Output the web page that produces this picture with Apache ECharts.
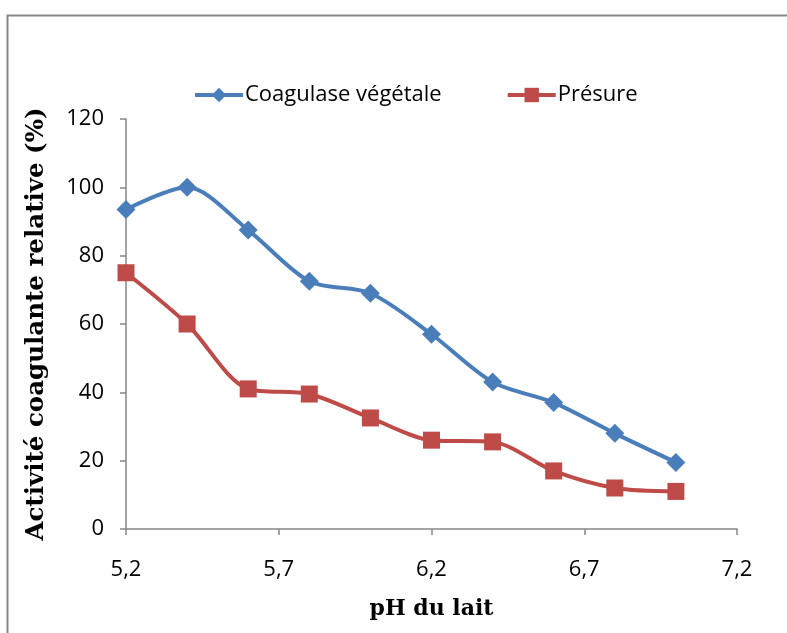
<!DOCTYPE html>
<html>
<head>
<meta charset="utf-8">
<script src="https://cdn.jsdelivr.net/npm/echarts@6/dist/echarts.min.js"></script>
<style>
  html, body { margin: 0; padding: 0; background: #fff; }
  #chart { width: 787px; height: 633px; }
</style>
</head>
<body>
<div id="chart"></div>
<script>
// pH values of the milk samples
const phValues = [5.2, 5.4, 5.6, 5.8, 6.0, 6.2, 6.4, 6.6, 6.8, 7.0];
// Relative clotting activity (%)
const coagulaseVegetale = [93.5, 100, 87.5, 72.5, 69, 57, 43, 37, 28, 19.5];
const presure = [75, 60, 41, 39.5, 32.5, 26, 25.5, 17, 12, 11];
// Axis tick positions
const xTicks = [5.2, 5.7, 6.2, 6.7, 7.2];

const labelFont = '"Open Sans", "Noto Sans", sans-serif';
const titleFont = '"DejaVu Serif", serif';
const axisGray = '#868686';

const chart = echarts.init(document.getElementById('chart'), null, { renderer: 'canvas' });

const pairs = (ys) => phValues.map((x, i) => [x, ys[i]]);

chart.setOption({
  animation: false,
  backgroundColor: '#ffffff',
  graphic: [{
    type: 'rect',
    left: 5, top: 13,
    shape: { width: 820, height: 700 },
    style: { fill: 'none', stroke: '#878787', lineWidth: 2 },
    silent: true
  }],
  legend: {
    top: 79,
    left: 188,
    itemGap: 64,
    itemWidth: 48,
    itemHeight: 18,
    lineStyle: { width: 4 },
    textStyle: { fontFamily: labelFont, fontSize: 22, color: '#000', padding: [0, 0, 0, -3] },
    data: ['Coagulase végétale', 'Présure']
  },
  grid: { left: 126, right: 50, top: 119, bottom: 104, containLabel: false },
  xAxis: {
    type: 'value',
    min: 5.2,
    max: 7.2,
    name: 'pH du lait',
    nameLocation: 'middle',
    nameGap: 69,
    nameTextStyle: { fontFamily: titleFont, fontWeight: 'bold', fontSize: 22, color: '#000' },
    axisLine: { show: true, lineStyle: { color: axisGray, width: 1.5 } },
    axisTick: { show: true, length: 6, lineStyle: { color: axisGray, width: 1.5 }, customValues: xTicks },
    axisLabel: {
      customValues: xTicks,
      margin: 30,
      fontFamily: labelFont, fontSize: 22, color: '#000',
      formatter: (v) => v.toFixed(1).replace('.', ',')
    },
    splitLine: { show: false }
  },
  yAxis: {
    type: 'value',
    min: 0,
    max: 120,
    interval: 20,
    name: 'Activité coagulante relative (%)',
    nameLocation: 'middle',
    nameGap: 77,
    nameRotate: 90,
    nameTextStyle: { fontFamily: titleFont, fontWeight: 'bold', fontSize: 24.5, color: '#000' },
    axisLine: { show: true, lineStyle: { color: axisGray, width: 1.5 } },
    axisTick: { show: true, length: 6, lineStyle: { color: axisGray, width: 1.5 } },
    axisLabel: { margin: 22, fontFamily: labelFont, fontSize: 22, color: '#000' },
    splitLine: { show: false }
  },
  series: [
    {
      name: 'Coagulase végétale',
      type: 'line',
      data: pairs(coagulaseVegetale),
      smooth: 0.3,
      symbol: 'diamond',
      symbolSize: 19,
      lineStyle: { color: '#4A7EBB', width: 4 },
      itemStyle: { color: '#4A7EBB' },
      z: 3
    },
    {
      name: 'Présure',
      type: 'line',
      data: pairs(presure),
      smooth: 0.3,
      symbol: 'rect',
      symbolSize: 17,
      lineStyle: { color: '#BE4B48', width: 4 },
      itemStyle: { color: '#BE4B48' },
      z: 2
    }
  ]
});
</script>
</body>
</html>
